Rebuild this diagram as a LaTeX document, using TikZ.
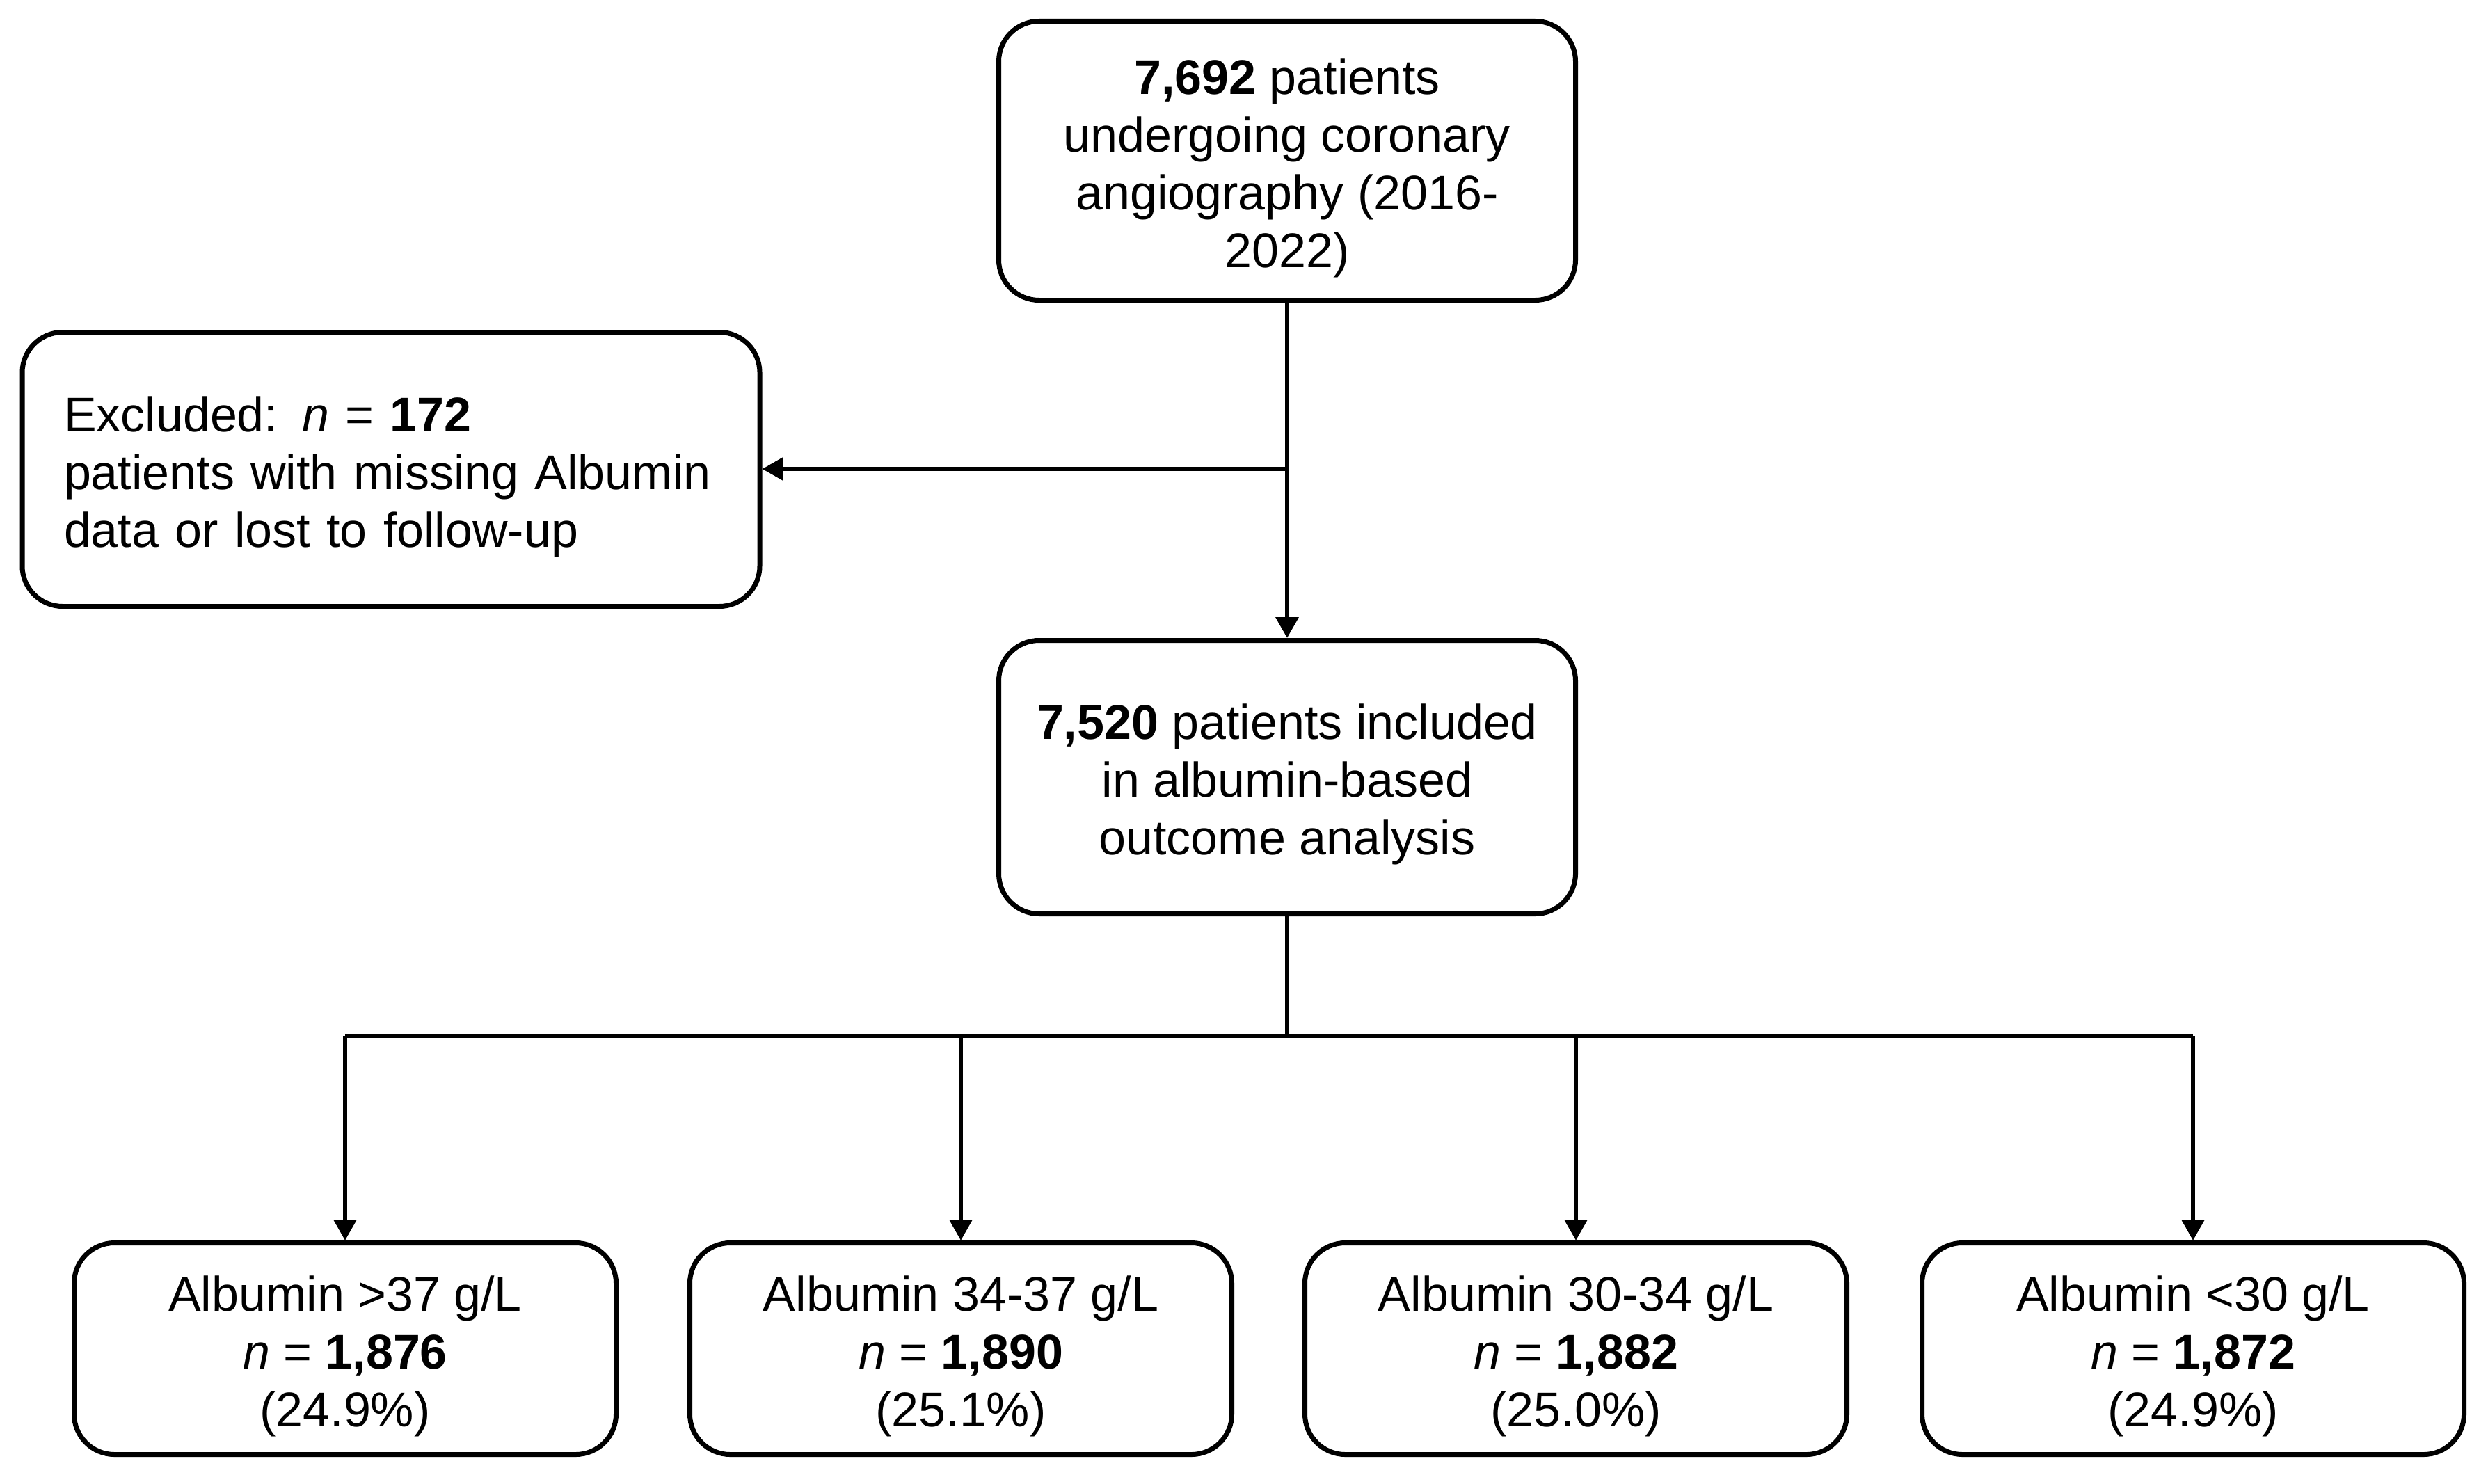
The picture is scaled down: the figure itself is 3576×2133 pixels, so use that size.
\documentclass[tikz,border=0pt]{standalone}
\usepackage{fontspec}
\setmainfont{Liberation Sans}
\usetikzlibrary{arrows.meta}
\newcommand{\topstrut}{\rule{0pt}{72pt}}
\tikzset{
  box/.style={draw=black, line width=7pt, fill=white, rounded corners=58pt,
    inner sep=0pt, align=center, font=\fontsize{70}{83}\selectfont},
  conn/.style={draw=black, line width=6.5pt},
  arr/.style={conn, -{Triangle[length=30pt,width=32pt]}}
}
\begin{document}
\begin{tikzpicture}[x=1pt,y=-1pt]
\useasboundingbox (0,0) rectangle (3576,2133);
\node[box, minimum width=829pt, minimum height=401pt] (top) at (1850,231)
  {\topstrut\textbf{7,692} patients\\undergoing coronary\\angiography (2016-\\2022)};
\node[box, minimum width=1060pt, minimum height=394pt, align=left,
  text width=940pt, inner xsep=60pt] (excl) at (562,674.5)
  {\topstrut Excluded: \textit{n} = \textbf{172}\\patients with missing Albumin\\data or lost to follow-up};
\node[box, minimum width=829pt, minimum height=393pt] (mid) at (1850,1117)
  {\topstrut\textbf{7,520} patients included\\in albumin-based\\outcome analysis};
\node[box, minimum width=779pt, minimum height=304pt] (b1) at (496,1938.5)
  {\topstrut Albumin >37 g/L\\\textit{n} = \textbf{1,876}\\(24.9\%)};
\node[box, minimum width=779pt, minimum height=304pt] (b2) at (1381,1938.5)
  {\topstrut Albumin 34-37 g/L\\\textit{n} = \textbf{1,890}\\(25.1\%)};
\node[box, minimum width=779pt, minimum height=304pt] (b3) at (2265,1938.5)
  {\topstrut Albumin 30-34 g/L\\\textit{n} = \textbf{1,882}\\(25.0\%)};
\node[box, minimum width=779pt, minimum height=304pt] (b4) at (3152,1938.5)
  {\topstrut Albumin <30 g/L\\\textit{n} = \textbf{1,872}\\(24.9\%)};
\coordinate (j1) at (1850,674);
\coordinate (j2) at (1850,1489);
\draw[arr] (top.south) -- (mid.north);
\draw[arr] (j1) -- (excl.east |- j1);
\draw[conn] (mid.south) -- (j2);
\draw[conn] (b1.north |- j2) -- (b4.north |- j2);
\draw[arr] (b1.north |- j2) -- (b1.north);
\draw[arr] (b2.north |- j2) -- (b2.north);
\draw[arr] (b3.north |- j2) -- (b3.north);
\draw[arr] (b4.north |- j2) -- (b4.north);
\end{tikzpicture}
\end{document}
